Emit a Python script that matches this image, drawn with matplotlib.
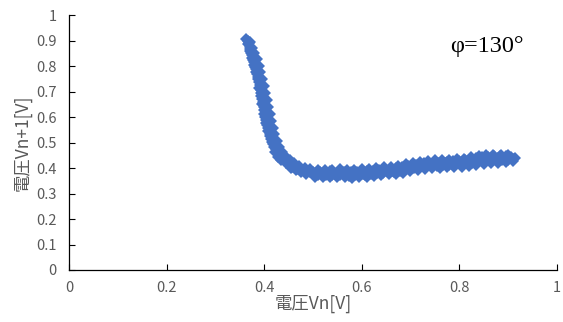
import matplotlib
matplotlib.use("Agg")
import matplotlib.pyplot as plt

plt.rcParams['font.family'] = ['Noto Sans CJK JP', 'DejaVu Sans']

# --- data (return map Vn -> Vn+1) ---
vn_drop = [0.363, 0.366, 0.368, 0.366, 0.370, 0.372, 0.371, 0.374, 0.376, 0.375,
           0.378, 0.380, 0.379, 0.382, 0.384, 0.383, 0.386, 0.388, 0.387, 0.390,
           0.391, 0.390, 0.393, 0.394, 0.393, 0.396, 0.397, 0.396, 0.399, 0.400,
           0.400, 0.402, 0.404, 0.403, 0.406, 0.408, 0.408, 0.411, 0.413, 0.414,
           0.417, 0.419, 0.421, 0.424, 0.427, 0.430, 0.433, 0.436, 0.440, 0.443,
           0.447, 0.451, 0.455, 0.460, 0.465, 0.470, 0.476, 0.482, 0.488, 0.494,
           0.445, 0.455, 0.465, 0.475, 0.485, 0.460, 0.470, 0.435, 0.428, 0.422]
vn1_drop = [0.905, 0.900, 0.890, 0.885, 0.875, 0.868, 0.858, 0.850, 0.842, 0.832,
            0.825, 0.815, 0.805, 0.796, 0.787, 0.776, 0.768, 0.758, 0.748, 0.738,
            0.727, 0.716, 0.706, 0.694, 0.684, 0.672, 0.660, 0.650, 0.638, 0.626,
            0.614, 0.602, 0.590, 0.578, 0.567, 0.556, 0.545, 0.535, 0.524, 0.513,
            0.503, 0.494, 0.484, 0.476, 0.467, 0.459, 0.451, 0.444, 0.437, 0.430,
            0.424, 0.418, 0.412, 0.406, 0.401, 0.396, 0.392, 0.389, 0.386, 0.383,
            0.418, 0.402, 0.392, 0.385, 0.378, 0.410, 0.402, 0.432, 0.445, 0.462]

# outer side of the falling branch
vn_drop_outer = [0.372, 0.376, 0.380, 0.385, 0.389, 0.392, 0.396, 0.399, 0.402, 0.405,
                 0.408, 0.411, 0.414, 0.418, 0.421, 0.426, 0.431, 0.437, 0.444, 0.452,
                 0.462, 0.472, 0.483, 0.495]
vn1_drop_outer = [0.895, 0.872, 0.850, 0.826, 0.800, 0.775, 0.750, 0.722, 0.695, 0.668,
                  0.640, 0.612, 0.585, 0.558, 0.532, 0.506, 0.483, 0.462, 0.445, 0.430,
                  0.418, 0.408, 0.400, 0.395]

vn_flat = [0.500, 0.503, 0.507, 0.511, 0.515, 0.519, 0.523, 0.527, 0.531, 0.535,
           0.539, 0.543, 0.547, 0.551, 0.555, 0.559, 0.563, 0.567, 0.571, 0.575,
           0.579, 0.583, 0.587, 0.591, 0.595, 0.599, 0.603, 0.607, 0.611, 0.615,
           0.619, 0.623, 0.627, 0.631, 0.635, 0.639, 0.643, 0.647, 0.651, 0.655,
           0.659, 0.663, 0.667, 0.671, 0.675, 0.679, 0.683, 0.687, 0.691, 0.695,
           0.699, 0.703, 0.707, 0.711, 0.715, 0.719, 0.723, 0.727, 0.731, 0.735,
           0.739, 0.743, 0.747, 0.751, 0.755, 0.759, 0.763, 0.767, 0.771, 0.775,
           0.779, 0.783, 0.787, 0.791, 0.795, 0.799, 0.803, 0.807, 0.811, 0.815,
           0.819, 0.823, 0.827, 0.831, 0.835, 0.839, 0.843, 0.847, 0.851, 0.855,
           0.859, 0.863, 0.867, 0.871, 0.875, 0.879, 0.883, 0.887, 0.891, 0.895,
           0.899, 0.903, 0.907, 0.911, 0.914]
vn1_flat = [0.385, 0.374, 0.381, 0.372, 0.386, 0.376, 0.383, 0.371, 0.380, 0.387,
            0.373, 0.382, 0.375, 0.385, 0.371, 0.379, 0.386, 0.374, 0.381, 0.370,
            0.384, 0.376, 0.372, 0.383, 0.375, 0.386, 0.378, 0.372, 0.388, 0.380,
            0.375, 0.390, 0.383, 0.379, 0.392, 0.385, 0.381, 0.395, 0.387, 0.384,
            0.396, 0.389, 0.385, 0.399, 0.392, 0.388, 0.403, 0.395, 0.399, 0.407,
            0.398, 0.410, 0.402, 0.413, 0.405, 0.416, 0.407, 0.418, 0.409, 0.414,
            0.420, 0.408, 0.417, 0.422, 0.410, 0.419, 0.424, 0.412, 0.418, 0.423,
            0.411, 0.420, 0.426, 0.414, 0.421, 0.428, 0.415, 0.424, 0.432, 0.418,
            0.427, 0.436, 0.421, 0.430, 0.440, 0.424, 0.433, 0.442, 0.426, 0.436,
            0.445, 0.428, 0.438, 0.446, 0.430, 0.440, 0.447, 0.431, 0.441, 0.446,
            0.432, 0.440, 0.444, 0.434, 0.440]

# lower and upper edges of the flat branch
vn_flat_low = [0.505, 0.520, 0.535, 0.550, 0.565, 0.580, 0.595, 0.610, 0.625, 0.640,
               0.655, 0.670, 0.685, 0.700, 0.715, 0.730, 0.745, 0.760, 0.775, 0.790,
               0.805, 0.820, 0.835, 0.850, 0.865, 0.880, 0.895, 0.910]
vn1_flat_low = [0.366, 0.364, 0.365, 0.363, 0.364, 0.362, 0.365, 0.366, 0.370, 0.372,
                0.375, 0.377, 0.381, 0.388, 0.394, 0.398, 0.400, 0.402, 0.403, 0.404,
                0.406, 0.409, 0.413, 0.416, 0.418, 0.420, 0.423, 0.426]
vn_flat_up = [0.510, 0.525, 0.540, 0.555, 0.570, 0.585, 0.600, 0.615, 0.630, 0.645,
              0.660, 0.675, 0.690, 0.705, 0.720, 0.735, 0.750, 0.765, 0.780, 0.795,
              0.810, 0.825, 0.840, 0.855, 0.870, 0.885, 0.900]
vn1_flat_up = [0.392, 0.394, 0.392, 0.395, 0.392, 0.393, 0.395, 0.398, 0.400, 0.404,
               0.406, 0.410, 0.415, 0.420, 0.425, 0.428, 0.430, 0.432, 0.431, 0.434,
               0.437, 0.443, 0.448, 0.450, 0.453, 0.452, 0.450]

vn = vn_drop + vn_drop_outer + vn_flat + vn_flat_low + vn_flat_up
vn1 = vn1_drop + vn1_drop_outer + vn1_flat + vn1_flat_low + vn1_flat_up

x_ticks = [0, 0.2, 0.4, 0.6, 0.8, 1]
x_labels = ['0', '0.2', '0.4', '0.6', '0.8', '1']
y_ticks = [0, 0.1, 0.2, 0.3, 0.4, 0.5, 0.6, 0.7, 0.8, 0.9, 1]
y_labels = ['0', '0.1', '0.2', '0.3', '0.4', '0.5', '0.6', '0.7', '0.8', '0.9', '1']

fig = plt.figure(figsize=(5.63, 3.22), dpi=100)
ax = fig.add_axes([0.1226, 0.1615, 0.8664, 0.7915])

ax.plot(vn, vn1, linestyle='none', marker='D', markersize=6.5,
        color='#4472C4', markeredgewidth=0)

ax.set_xlim(0, 1)
ax.set_ylim(0, 1)
ax.set_xticks(x_ticks)
ax.set_xticklabels(x_labels)
ax.set_yticks(y_ticks)
ax.set_yticklabels(y_labels)
ax.tick_params(direction='in', length=4, width=0.8, colors='black',
               labelcolor='#595959', labelsize=10.5)
ax.tick_params(axis='y', pad=9)
ax.tick_params(axis='x', pad=8)
for side in ['top', 'right']:
    ax.spines[side].set_visible(False)
for side in ['left', 'bottom']:
    ax.spines[side].set_linewidth(0.9)

ax.set_xlabel('電圧Vn[V]', fontsize=12.5, color='#595959', labelpad=0)
ax.set_ylabel('電圧Vn+1[V]', fontsize=12.5, color='#595959', labelpad=3)

ax.text(0.857, 0.875, 'φ=130°', fontsize=17.5, family='Liberation Serif',
        ha='center', va='center')

fig.savefig('out.png', dpi=100)
